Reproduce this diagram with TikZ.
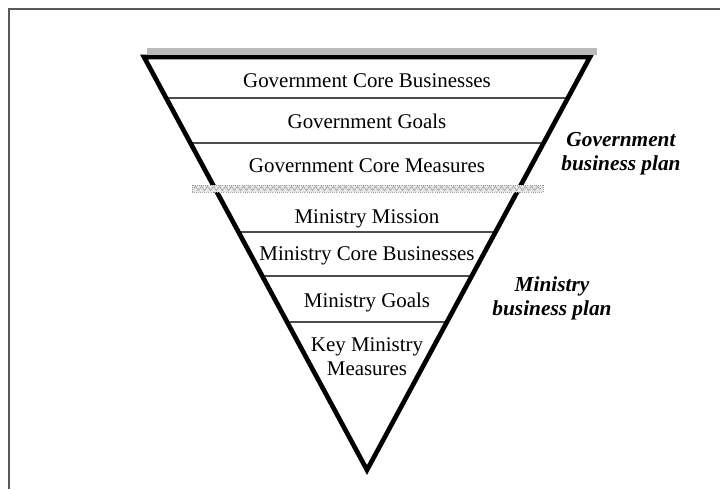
\documentclass[tikz,border=0pt]{standalone}
\usepackage{fontspec}
\setmainfont{Liberation Serif}
\usetikzlibrary{calc,decorations.pathmorphing}

\tikzset{
  layer/.style={font=\fontsize{15.7}{17.5}\selectfont, anchor=base, align=center},
  planlabel/.style={font=\fontsize{16}{17.5}\selectfont\bfseries\itshape, anchor=base, align=center},
  rowline/.style={draw=black!70, line width=0.9pt},
  funnel/.style={draw=black, line width=3.5pt, line join=miter},
}

\begin{document}
\begin{tikzpicture}[x=0.75pt, y=-0.75pt]
  \useasboundingbox (0,0) rectangle (720,489);
  %% -- page frame ---------------------------------------------
  \draw[black!65, line width=1pt] (9,489) -- (9,9) -- (720,9);
  %% -- funnel corners -----------------------------------------
  \coordinate (tl)   at (144,57);
  \coordinate (tr)   at (590,57);
  \coordinate (apex) at (367,470);
  %% -- row separators, cut to the funnel edges ----------------
  \foreach \y in {98,143,232,276,322}{
    \pgfmathsetmacro\t{(\y-57)/413}
    \draw[rowline] ($(tl)!\t!(apex)$) -- ($(tr)!\t!(apex)$);
  }
  \draw[funnel] (tl) -- (tr) -- (apex) -- cycle;
  %% -- shaded bars (top rim and plan boundary) ----------------
  \fill[gray!55] (147,48) rectangle (597,55);
  \draw[gray!75, fill=gray!20, line width=0.6pt, densely dotted] (192,185) rectangle (543,192);
  \draw[gray!70, line width=0.5pt,
        decorate, decoration={zigzag, amplitude=1.6pt, segment length=4.5pt}]
    (194,188.5) -- (541,188.5);
  %% -- layer texts (y = baseline of the last line) ------------
  \foreach \y/\txt [count=\i] in {
    87/{Government Core Businesses},
    128/{Government Goals},
    172/{Government Core Measures},
    223/{Ministry Mission},
    260/{Ministry Core Businesses},
    307/{Ministry Goals},
    375/{Key Ministry\\Measures}}{
    \node[layer] (row\i) at (367,\y) {\txt};
  }
  %% -- plan labels --------------------------------------------
  \node[planlabel] (govplan) at (621,170) {Government\\business plan};
  \node[planlabel] (minplan) at (552,315) {Ministry\\business plan};
\end{tikzpicture}
\end{document}
